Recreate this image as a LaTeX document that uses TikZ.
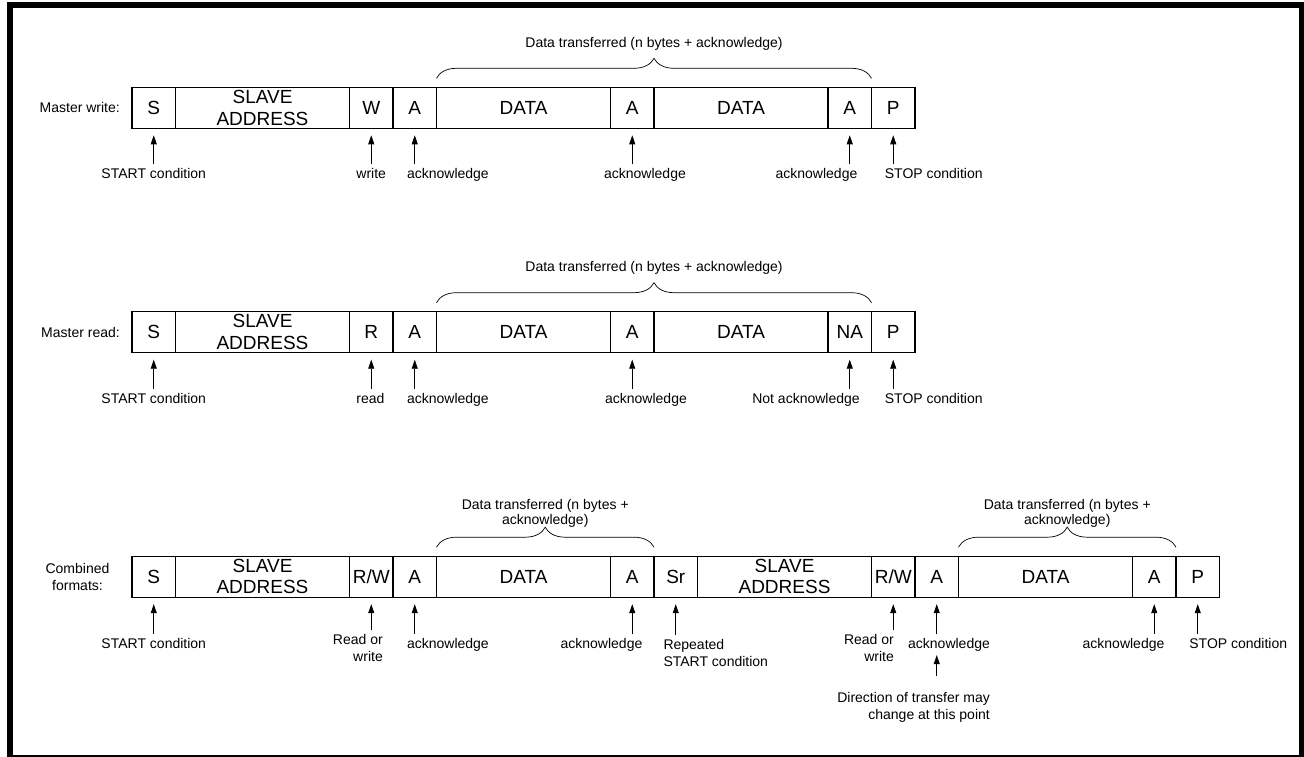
\documentclass[tikz,border=0pt]{standalone}
\usepackage{fontspec}
\setmainfont{Liberation Sans}
\usetikzlibrary{arrows.meta,decorations.pathreplacing}

\begin{document}
\begin{tikzpicture}[x=1pt,y=-1pt]
 \tikzset{bit/.style={draw, line width=1.3pt, minimum width=43.5pt, minimum height=41pt, inner sep=0pt, outer sep=0pt, align=center, font=\fontsize{19pt}{21.5pt}\selectfont}}
 \tikzset{field/.style={bit, minimum width=174pt}}
 \tikzset{lbl/.style={inner sep=4pt, anchor=north, font=\fontsize{14pt}{17pt}\selectfont}}
 \tikzset{pointer/.style={-{Triangle[length=9pt,width=6pt]}, line width=0.7pt, shorten >=7pt}}
 \tikzset{brace/.style={decorate, decoration={brace, amplitude=20pt}, line width=0.7pt}}
 \useasboundingbox (0,0) rectangle (1304,757);
 \draw[line width=6pt] (10,5) rectangle (1302,757.5);

 % master write
 \node[lbl, anchor=east] (MW) at (124,107.8) {Master write:};
 \node[bit] (S1) at (153.75,107.8) {S};
 \node[field] (AD1) at (262.5,107.8) {SLAVE\\ADDRESS};
 \node[bit] (W1) at (371.25,107.8) {W};
 \node[bit] (A1a) at (414.75,107.8) {A};
 \node[field] (D1a) at (523.5,107.8) {DATA};
 \node[bit] (A1b) at (632.25,107.8) {A};
 \node[field] (D1b) at (741,107.8) {DATA};
 \node[bit] (A1c) at (849.75,107.8) {A};
 \node[bit] (P1) at (893.25,107.8) {P};
 \draw[brace] ([yshift=9pt]D1a.north west) -- ([yshift=9pt]A1c.north east)
   node[lbl, midway, above=23.6pt] (DT1) {Data transferred (n bytes + acknowledge)};
 \node[lbl] (STA1) at (153.75,164.3) {START condition};
 \node[lbl] (WR1) at (371.25,164.3) {write};
 \node[lbl] (AK1a) at (447.9,164.3) {acknowledge};
 \node[lbl] (AK1b) at (645,164.3) {acknowledge};
 \node[lbl] (AK1c) at (816.5,164.3) {acknowledge};
 \node[lbl] (STO1) at (933.75,164.3) {STOP condition};
 \draw[pointer] (STA1.north -| S1.south) -- (S1.south);
 \draw[pointer] (WR1.north -| W1.south) -- (W1.south);
 \draw[pointer] (AK1a.north -| A1a.south) -- (A1a.south);
 \draw[pointer] (AK1b.north -| A1b.south) -- (A1b.south);
 \draw[pointer] (AK1c.north -| A1c.south) -- (A1c.south);
 \draw[pointer] (STO1.north -| P1.south) -- (P1.south);

 % master read
 \node[lbl, anchor=east] (MR) at (124,332.2) {Master read:};
 \node[bit] (S2) at (153.75,332.2) {S};
 \node[field] (AD2) at (262.5,332.2) {SLAVE\\ADDRESS};
 \node[bit] (R2) at (371.25,332.2) {R};
 \node[bit] (A2a) at (414.75,332.2) {A};
 \node[field] (D2a) at (523.5,332.2) {DATA};
 \node[bit] (A2b) at (632.25,332.2) {A};
 \node[field] (D2b) at (741,332.2) {DATA};
 \node[bit] (NA2) at (849.75,332.2) {NA};
 \node[bit] (P2) at (893.25,332.2) {P};
 \draw[brace] ([yshift=9pt]D2a.north west) -- ([yshift=9pt]NA2.north east)
   node[lbl, midway, above=23.6pt] (DT2) {Data transferred (n bytes + acknowledge)};
 \node[lbl] (STA2) at (153.75,388.7) {START condition};
 \node[lbl] (RD2) at (370.5,388.7) {read};
 \node[lbl] (AK2a) at (447.9,388.7) {acknowledge};
 \node[lbl] (AK2b) at (646,388.7) {acknowledge};
 \node[lbl] (NAK2) at (806,388.7) {Not acknowledge};
 \node[lbl] (STO2) at (933.75,388.7) {STOP condition};
 \draw[pointer] (STA2.north -| S2.south) -- (S2.south);
 \draw[pointer] (RD2.north -| R2.south) -- (R2.south);
 \draw[pointer] (AK2a.north -| A2a.south) -- (A2a.south);
 \draw[pointer] (AK2b.north -| A2b.south) -- (A2b.south);
 \draw[pointer] (NAK2.north -| NA2.south) -- (NA2.south);
 \draw[pointer] (STO2.north -| P2.south) -- (P2.south);

 % combined formats
 \node[lbl, anchor=center, align=center] (CF) at (77.5,576.7) {Combined\\formats:};
 \node[bit] (S3) at (153.75,576.7) {S};
 \node[field] (AD3a) at (262.5,576.7) {SLAVE\\ADDRESS};
 \node[bit] (RW3a) at (371.25,576.7) {R/W};
 \node[bit] (A3a) at (414.75,576.7) {A};
 \node[field] (D3a) at (523.5,576.7) {DATA};
 \node[bit] (A3b) at (632.25,576.7) {A};
 \node[bit] (SR3) at (675.75,576.7) {Sr};
 \node[field] (AD3b) at (784.5,576.7) {SLAVE\\ADDRESS};
 \node[bit] (RW3b) at (893.25,576.7) {R/W};
 \node[bit] (A3c) at (936.75,576.7) {A};
 \node[field] (D3b) at (1045.5,576.7) {DATA};
 \node[bit] (A3d) at (1154.25,576.7) {A};
 \node[bit] (P3) at (1197.75,576.7) {P};
 \draw[brace] ([yshift=9pt]D3a.north west) -- ([yshift=9pt]A3b.north east)
   node[lbl, midway, above=15pt, align=center, font=\fontsize{14pt}{15pt}\selectfont] (DT3a) {Data transferred (n bytes +\\acknowledge)};
 \draw[brace] ([yshift=9pt]D3b.north west) -- ([yshift=9pt]A3d.north east)
   node[lbl, midway, above=15pt, align=center, font=\fontsize{14pt}{15pt}\selectfont] (DT3b) {Data transferred (n bytes +\\acknowledge)};
 \node[lbl] (STA3) at (153.75,633.7) {START condition};
 \node[lbl, anchor=north east, align=right] (RW3aL) at (387,630.3) {Read or\\write};
 \node[lbl] (AK3a) at (447.9,633.7) {acknowledge};
 \node[lbl] (AK3b) at (601.5,633.7) {acknowledge};
 \node[lbl, anchor=north west, align=left] (REP3) at (659.3,635) {Repeated\\START condition};
 \node[lbl, anchor=north east, align=right] (RW3bL) at (898,630.3) {Read or\\write};
 \node[lbl] (AK3c) at (949,633.7) {acknowledge};
 \node[lbl] (AK3d) at (1123.5,633.7) {acknowledge};
 \node[lbl] (STO3) at (1238.25,633.7) {STOP condition};
 \node[lbl, anchor=north east, align=right] (DIR3) at (994,687.7) {Direction of transfer may\\change at this point};
 \draw[pointer] (STA3.north -| S3.south) -- (S3.south);
 \draw[pointer] (RW3aL.north -| RW3a.south) -- (RW3a.south);
 \draw[pointer] (AK3a.north -| A3a.south) -- (A3a.south);
 \draw[pointer] (AK3b.north -| A3b.south) -- (A3b.south);
 \draw[pointer] (REP3.north -| SR3.south) -- (SR3.south);
 \draw[pointer] (RW3bL.north -| RW3b.south) -- (RW3b.south);
 \draw[pointer] (AK3c.north -| A3c.south) -- (A3c.south);
 \draw[pointer] (AK3d.north -| A3d.south) -- (A3d.south);
 \draw[pointer] (STO3.north -| P3.south) -- (P3.south);
 \draw[pointer, shorten >=0pt] ([yshift=12pt]DIR3.north -| A3c.south) -- (AK3c.south -| A3c.south);
\end{tikzpicture}
\end{document}
